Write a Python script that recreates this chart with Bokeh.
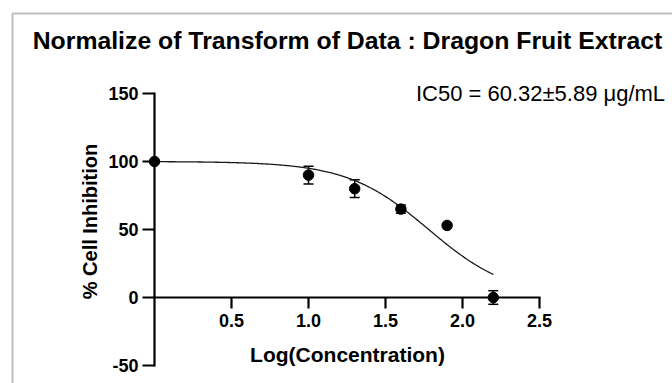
import numpy as np
from bokeh.plotting import figure
from bokeh.models import (ColumnDataSource, Range1d, Whisker, TeeHead, Label,
                          BoxAnnotation)
from bokeh.core.properties import value
from bokeh.embed import file_html
from bokeh.resources import INLINE

# ---------------- data ----------------
log_conc = [0.0, 1.0, 1.3, 1.6, 1.9, 2.2]
inhibition = [100.0, 90.0, 80.0, 65.0, 53.0, 0.0]
sem = [0.0, 6.5, 6.5, 3.0, 1.0, 5.0]

# non-linear fit (log(inhibitor) vs. normalized response)
fit_top = 100.0
fit_bottom = 0.0
fit_log_ic50 = 1.7805      # log10(60.32)
fit_hill = 1.64
fit_x_start = 0.0
fit_x_end = 2.2

x_ticks = [0.5, 1.0, 1.5, 2.0, 2.5]
x_tick_labels = ["0.5", "1.0", "1.5", "2.0", "2.5"]
y_ticks = [-50, 0, 50, 100, 150]
y_tick_labels = ["-50", "0", "50", "100", "150"]
x_bounds = [0.0, 2.5]
y_bounds = [-50.0, 150.0]

title_text = "Normalize of Transform of Data : Dragon Fruit Extract"
ic50_text = "IC50 = 60.32\u00b15.89 \u03bcg/mL"
x_title = "Log(Concentration)"
y_title = "% Cell Inhibition"

# ---------------- layout (screen px) ----------------
W, H = 672, 383
X0_PX, X_PER = 154.0, 154.0   # screen x of x=0 and px per unit
Y0_PX, Y_PER = 297.0, 1.36    # screen y of y=0 and px per unit
LBL = 9                       # label baseline correction (px)

def dx(sx):
    return (sx - X0_PX) / X_PER

def dy(sy):
    return (Y0_PX - sy) / Y_PER

FONT = "Liberation Sans"

p = figure(width=W, height=H, output_backend="svg", toolbar_location=None,
           x_axis_location=None, y_axis_location=None,
           x_range=Range1d(dx(0), dx(W)), y_range=Range1d(dy(H), dy(0)),
           min_border=0, outline_line_color=None,
           background_fill_color="white", border_fill_color="white")
p.grid.visible = False

# ---- axes (crossing at the origin) ----
Y_TICK, X_TICK = 12, 11       # tick lengths px
p.segment(x0=[0, x_bounds[0]], y0=[y_bounds[0], 0], x1=[0, x_bounds[1]], y1=[y_bounds[1], 0],
          line_color="black", line_width=2.2, line_cap="square")
p.segment(x0=[0] * len(y_ticks), y0=y_ticks, x1=[-Y_TICK / X_PER] * len(y_ticks), y1=y_ticks,
          line_color="black", line_width=2.2)
p.segment(x0=x_ticks, y0=[0] * len(x_ticks), x1=x_ticks, y1=[-X_TICK / Y_PER] * len(x_ticks),
          line_color="black", line_width=2.2)
p.text(x=[-(Y_TICK + 4) / X_PER] * len(y_ticks), y=y_ticks, text=y_tick_labels,
       text_align="right", text_baseline="middle", text_font=value(FONT),
       text_font_style="bold", text_font_size="18px", text_color="black")
p.text(x=x_ticks, y=[-(X_TICK + 5) / Y_PER] * len(x_ticks), text=x_tick_labels,
       text_align="center", text_baseline="top", text_font=value(FONT),
       text_font_style="bold", text_font_size="18px", text_color="black")

# ---- fitted curve ----
fx = np.linspace(fit_x_start, fit_x_end, 300)
fy = fit_bottom + (fit_top - fit_bottom) / (1 + 10 ** ((fx - fit_log_ic50) * fit_hill))
p.line(fx, fy, line_color="#1a1a1a", line_width=1.3)

# ---- data with error bars ----
src = ColumnDataSource(dict(
    x=log_conc, y=inhibition,
    upper=[v + e for v, e in zip(inhibition, sem)],
    lower=[v - e for v, e in zip(inhibition, sem)]))
p.add_layout(Whisker(source=src, base="x", upper="upper", lower="lower",
                     dimension="height", line_color="black", line_width=1.5,
                     upper_head=TeeHead(size=10, line_color="black", line_width=1.5),
                     lower_head=TeeHead(size=10, line_color="black", line_width=1.5)))
p.scatter("x", "y", source=src, size=10.5, color="black")

# ---- border (cropped rectangle) ----
p.add_layout(BoxAnnotation(left=dx(12), right=dx(1400), top=dy(13), bottom=dy(1400),
                           fill_color=None, fill_alpha=0,
                           line_color="#2a2a2a", line_width=2))

# ---- texts ----
p.add_layout(Label(x=dx(347), y=dy(49 - LBL), text=title_text, text_align="center",
                   text_baseline="alphabetic", text_font=FONT, text_font_style="bold",
                   text_font_size="24.8px", text_color="black"))
p.add_layout(Label(x=dx(540), y=dy(102 - LBL), text=ic50_text, text_align="center",
                   text_baseline="alphabetic", text_font=FONT, text_font_style="normal",
                   text_font_size="22px", text_color="black"))
p.add_layout(Label(x=dx(347), y=dy(363 - LBL), text=x_title, text_align="center",
                   text_baseline="alphabetic", text_font=FONT, text_font_style="bold",
                   text_font_size="21px", text_color="black"))
p.add_layout(Label(x=dx(98 - LBL), y=dy(221), text=y_title, text_align="center",
                   text_baseline="alphabetic", angle=np.pi / 2, text_font=FONT,
                   text_font_style="bold", text_font_size="20px", text_color="black"))

open("out.html", "w").write(file_html(p, INLINE))
